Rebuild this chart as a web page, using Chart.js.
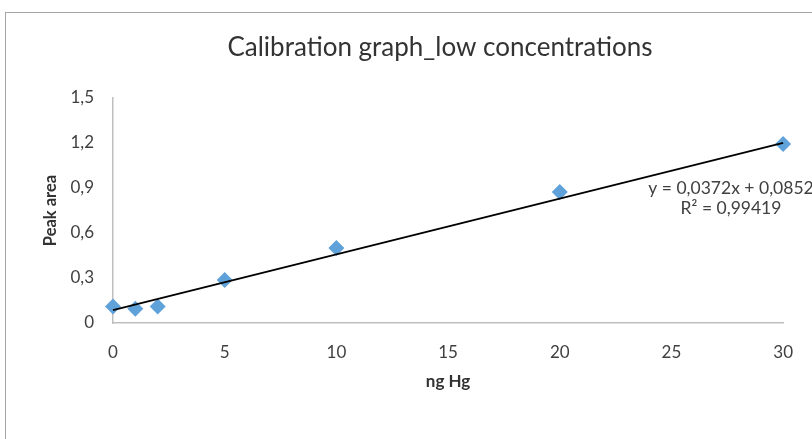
<!DOCTYPE html>
<html>
<head>
<meta charset="utf-8">
<script src="https://cdn.jsdelivr.net/npm/chart.js@4.4.1/dist/chart.umd.min.js"></script>
<style>
  html, body { margin: 0; padding: 0; background: #ffffff; }
  #wrap { width: 812px; height: 439px; position: relative; }
</style>
</head>
<body>
<div id="wrap"><canvas id="c" width="812" height="439"></canvas></div>
<script>
const chartTitle = 'Calibration graph_low concentrations';
const xAxisTitle = 'ng Hg';
const yAxisTitle = 'Peak area';
const ngHg = [0, 1, 2, 5, 10, 20, 30];
const peakArea = [0.11, 0.095, 0.11, 0.287, 0.50, 0.873, 1.193];
const trendX = [0, 30];
const trendY = [0.0852, 1.2012];
const equationLines = ['y = 0,0372x + 0,0852', 'R\u00B2 = 0,99419'];
const xTickLabels = ['0', '5', '10', '15', '20', '25', '30'];
const yTickLabels = ['0', '0,3', '0,6', '0,9', '1,2', '1,5'];

const FONT = 'Lato, "Open Sans", sans-serif';
const TEXT = '#404040';

const framePlugin = {
  id: 'frame',
  beforeDraw(chart) {
    const ctx = chart.ctx;
    ctx.save();
    ctx.fillStyle = '#ffffff';
    ctx.fillRect(0, 0, chart.width, chart.height);
    ctx.strokeStyle = '#a6a6a6';
    ctx.lineWidth = 1;
    ctx.strokeRect(5.5, 12.5, 900, 600);
    ctx.font = '26px ' + FONT;
    ctx.fillStyle = '#333333';
    ctx.textAlign = 'center';
    ctx.textBaseline = 'middle';
    ctx.fillText(chartTitle, 440, 48);
    ctx.restore();
  }
};

const equationPlugin = {
  id: 'equation',
  afterDatasetsDraw(chart) {
    const ctx = chart.ctx;
    ctx.save();
    ctx.font = '17.5px ' + FONT;
    ctx.fillStyle = '#404040';
    ctx.textAlign = 'center';
    ctx.textBaseline = 'middle';
    ctx.fillText(equationLines[0], 731, 188);
    ctx.fillText(equationLines[1], 731, 208);
    ctx.restore();
  }
};

new Chart(document.getElementById('c'), {
  type: 'scatter',
  data: {
    datasets: [
      {
        label: 'Trend',
        type: 'line',
        data: trendX.map((x, i) => ({ x: x, y: trendY[i] })),
        borderColor: '#000000',
        borderWidth: 1.75,
        pointRadius: 0,
        fill: false,
        clip: false,
        order: 1
      },
      {
        label: 'Peak area',
        data: ngHg.map((x, i) => ({ x: x, y: peakArea[i] })),
        pointStyle: 'rectRot',
        pointRadius: 8,
        pointHoverRadius: 8,
        backgroundColor: '#5FA2DA',
        borderColor: '#5FA2DA',
        borderWidth: 0,
        clip: false,
        order: 2
      }
    ]
  },
  options: {
    responsive: false,
    animation: false,
    devicePixelRatio: 1,
    layout: { padding: { left: 0, right: 23, top: 98, bottom: 0 } },
    plugins: {
      legend: { display: false },
      tooltip: { enabled: false },
      title: { display: false }
    },
    scales: {
      x: {
        type: 'linear',
        min: 0,
        max: 30,
        afterFit(scale) { scale.height = 116; },
        grid: { display: false, drawTicks: false },
        border: { display: true, color: '#bfbfbf', width: 1.5 },
        ticks: {
          stepSize: 5,
          padding: 19,
          color: TEXT,
          font: { family: FONT, size: 17 },
          callback: (v, i) => xTickLabels[i]
        },
        title: {
          display: true,
          text: xAxisTitle,
          color: '#333333',
          font: { family: FONT, size: 17, weight: 'bold' },
          padding: { top: 10, bottom: 47 }
        }
      },
      y: {
        type: 'linear',
        min: 0,
        max: 1.5,
        afterFit(scale) { scale.width = 113; },
        grid: { display: false, drawTicks: false },
        border: { display: true, color: '#bfbfbf', width: 1.5 },
        ticks: {
          stepSize: 0.3,
          padding: 19,
          color: TEXT,
          font: { family: FONT, size: 17 },
          callback: (v, i) => yTickLabels[i]
        },
        title: {
          display: true,
          text: yAxisTitle,
          color: '#333333',
          font: { family: FONT, size: 16.5, weight: 'bold' },
          padding: { top: 41, bottom: 10 }
        }
      }
    }
  },
  plugins: [framePlugin, equationPlugin]
});
</script>
</body>
</html>
